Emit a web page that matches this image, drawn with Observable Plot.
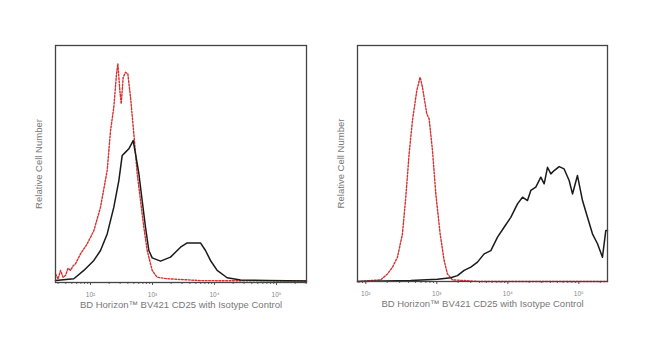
<!DOCTYPE html>
<html>
<head>
<meta charset="utf-8">
<script src="https://cdn.jsdelivr.net/npm/d3@7"></script>
<script src="https://cdn.jsdelivr.net/npm/@observablehq/plot@0.6"></script>
<style>
  html, body { margin: 0; padding: 0; background: #fff; }
  #wrap { position: relative; width: 650px; height: 359px; overflow: hidden; font-family: "Liberation Sans", Arial, sans-serif; }
  .panel { position: absolute; top: 0; }
</style>
</head>
<body>
<div id="wrap"></div>
<script>
// x values are log10 of fluorescence intensity; y values are relative cell number (% of frame)
const tickValues = [2, 3, 4, 5];
const tickLabels = ["10²", "10³", "10⁴", "10⁵"];
const xLabel = "BD Horizon™ BV421 CD25 with Isotype Control";
const yLabel = "Relative Cell Number";

// Left panel
const leftBlackX = [1.435, 1.731, 1.892, 2.054, 2.161, 2.269, 2.376, 2.457, 2.511, 2.565, 2.618, 2.688, 2.726, 2.780, 2.833, 2.887, 2.941, 2.995, 3.129, 3.290, 3.452, 3.559, 3.774, 3.855, 3.935, 4.043, 4.204, 4.419, 4.85, 5.484];
const leftBlackY = [0.8, 1.6, 5.1, 9.3, 13.5, 20.5, 31.8, 43.0, 53.6, 55.0, 56.4, 59.9, 54.3, 45.9, 34.6, 23.3, 13.5, 10.4, 9.0, 10.7, 14.9, 16.7, 16.7, 13.5, 9.3, 5.1, 2.0, 1.1, 0.8, 0.6];
const leftRedX = [1.435, 1.476, 1.516, 1.557, 1.597, 1.637, 1.677, 1.718, 1.758, 1.839, 1.946, 2.054, 2.161, 2.269, 2.323, 2.376, 2.419, 2.441, 2.473, 2.495, 2.527, 2.565, 2.602, 2.645, 2.699, 2.753, 2.806, 2.860, 2.914, 2.995, 3.075, 3.237, 3.774, 5.484];
const leftRedY = [3.7, 1.5, 5.1, 2.2, 3.0, 6.0, 5.1, 7.0, 7.9, 12.1, 16.3, 21.9, 31.8, 47.3, 64.1, 74.0, 88.0, 92.3, 81.0, 75.4, 86.6, 88.7, 88.0, 78.2, 62.7, 45.9, 34.6, 23.3, 13.5, 5.1, 2.2, 1.6, 0.8, 0.6];

// Right panel
const rightBlackX = [1.883, 2.634, 3.009, 3.197, 3.291, 3.385, 3.479, 3.573, 3.667, 3.761, 3.855, 3.948, 4.042, 4.136, 4.207, 4.277, 4.324, 4.394, 4.465, 4.512, 4.559, 4.606, 4.653, 4.723, 4.793, 4.864, 4.911, 4.981, 5.052, 5.122, 5.192, 5.263, 5.333, 5.380, 5.404];
const rightBlackY = [0, 0.4, 1.0, 1.6, 2.5, 4.7, 6.1, 8.2, 11.7, 13.1, 18.8, 23.0, 27.2, 32.9, 35.7, 34.3, 38.6, 40.0, 44.2, 41.4, 48.4, 45.6, 47.0, 48.7, 47.7, 42.8, 37.1, 44.9, 34.3, 27.2, 20.2, 16.0, 10.3, 21.6, 21.6];
const rightRedX = [1.883, 2.211, 2.305, 2.376, 2.446, 2.516, 2.563, 2.610, 2.657, 2.718, 2.765, 2.798, 2.859, 2.892, 2.939, 2.986, 3.047, 3.103, 3.150, 3.221, 3.6, 5.404];
const rightRedY = [0, 0.7, 3.2, 6.1, 10.3, 20.2, 35.7, 54.1, 68.2, 80.9, 86.6, 82.3, 71.0, 68.9, 55.5, 37.1, 20.2, 8.9, 3.2, 0.7, 0, 0];

const toRows = (xs, ys) => xs.map((x, i) => ({x, y: ys[i]}));

function panel({xDomain, black, red, left, marginLeft, marginRight, marginBottom}) {
  const [d0, d1] = xDomain;
  const minor = [];
  for (let d = Math.floor(d0); d <= d1; d++) {
    for (let k = 2; k <= 9; k++) {
      const v = d + Math.log10(k);
      if (v > d0 && v < d1) minor.push(v);
    }
  }
  const chart = Plot.plot({
    width: 325,
    height: 320,
    marginLeft, marginRight, marginTop: 45, marginBottom,
    style: {background: "transparent", fontFamily: "Liberation Sans, Arial, sans-serif"},
    x: {domain: xDomain},
    y: {domain: [0, 100], axis: null},
    marks: [
      Plot.axisX(minor, {tickSize: 2, tickFormat: () => "", stroke: "#666", label: null}),
      Plot.axisX(tickValues, {tickSize: 3, tickPadding: 7, tickFormat: (d, i) => tickLabels[i], fontSize: 6.5, fill: "#888", stroke: "#555", label: null}),
      Plot.line(red, {x: "x", y: "y", stroke: "#d83030", strokeWidth: 1.4, strokeDasharray: "1.8,1.6", curve: "linear"}),
      Plot.line(black, {x: "x", y: "y", stroke: "#1a1a1a", strokeWidth: 1.5, curve: "linear"}),
      Plot.frame({stroke: "#444", strokeWidth: 1.3}),
      Plot.text([xLabel], {frameAnchor: "bottom", dy: 25, fontSize: 9.5, fill: "#777"}),
      Plot.text([yLabel], {frameAnchor: "left", textAnchor: "middle", dx: -17, rotate: -90, fontSize: 9.5, fill: "#777"})
    ]
  });
  chart.classList.add("panel");
  chart.style.left = left + "px";
  document.getElementById("wrap").appendChild(chart);
}

panel({xDomain: [1.435, 5.484], black: toRows(leftBlackX, leftBlackY), red: toRows(leftRedX, leftRedY), left: 0, marginLeft: 55, marginRight: 19, marginBottom: 38});
panel({xDomain: [1.883, 5.404], black: toRows(rightBlackX, rightBlackY), red: toRows(rightRedX, rightRedY), left: 325, marginLeft: 32, marginRight: 43, marginBottom: 39});
</script>
</body>
</html>
